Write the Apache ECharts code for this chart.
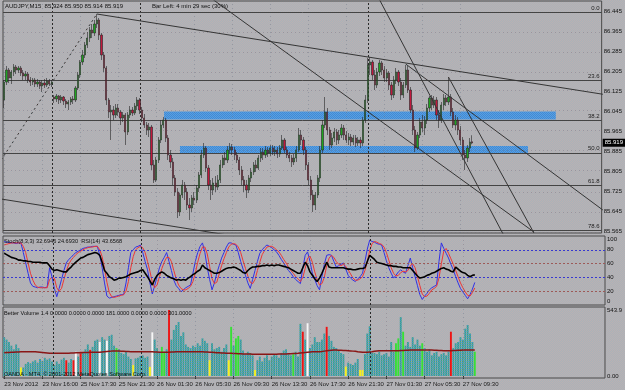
<!DOCTYPE html>
<html><head><meta charset="utf-8">
<script src="https://cdn.jsdelivr.net/npm/echarts@6/dist/echarts.min.js"></script>
<style>html,body{margin:0;padding:0;width:625px;height:390px;overflow:hidden;}#c{width:625px;height:390px;}</style>
</head><body><div id="c"></div><script>
// ---------- DATA ----------
// candles: [open, close, low, high] per 15-minute bar
const candles = [
[86.091,86.163,86.059,86.171],[86.163,86.211,86.151,86.227],[86.211,86.179,86.159,86.219],[86.179,86.203,86.155,86.211],[86.203,86.223,86.187,86.235],
[86.223,86.211,86.195,86.231],[86.211,86.219,86.199,86.227],[86.219,86.199,86.187,86.227],[86.199,86.187,86.171,86.211],[86.187,86.195,86.171,86.207],
[86.195,86.171,86.159,86.203],[86.171,86.163,86.147,86.183],[86.163,86.171,86.151,86.179],[86.171,86.155,86.143,86.179],[86.155,86.163,86.143,86.175],
[86.163,86.147,86.135,86.171],[86.147,86.159,86.123,86.171],[86.159,86.151,86.139,86.175],[86.151,86.167,86.143,86.179],[86.167,86.155,86.147,86.175],
[86.155,86.163,86.143,86.171],[86.103,86.095,86.079,86.111],[86.095,86.107,86.083,86.115],[86.107,86.091,86.075,86.111],[86.091,86.103,86.079,86.111],
[86.103,86.087,86.071,86.107],[86.087,86.075,86.059,86.095],[86.075,86.083,86.051,86.091],[86.083,86.095,86.071,86.103],[86.095,86.091,86.075,86.107],
[86.091,86.139,86.083,86.147],[86.139,86.191,86.131,86.203],[86.191,86.243,86.179,86.251],[86.243,86.271,86.231,86.291],[86.271,86.311,86.259,86.323],
[86.311,86.339,86.299,86.363],[86.339,86.371,86.323,86.383],[86.371,86.359,86.339,86.395],[86.359,86.395,86.347,86.411],[86.395,86.411,86.379,86.435],
[86.411,86.351,86.331,86.419],[86.351,86.271,86.251,86.359],[86.271,86.219,86.203,86.283],[86.219,86.091,86.071,86.227],[86.091,86.043,86.019,86.099],
[86.043,86.051,85.931,86.071],[86.051,86.031,86.011,86.067],[86.031,86.059,86.019,86.075],[86.059,86.043,86.027,86.075],[86.043,86.019,85.991,86.051],
[86.019,86.031,86.003,86.043],[86.031,85.963,85.911,86.039],[85.963,86.031,85.951,86.043],[86.031,86.051,86.019,86.067],[86.051,86.039,86.027,86.063],
[86.039,86.067,86.031,86.079],[86.067,86.091,86.051,86.103],[86.091,86.051,86.035,86.099],[86.051,86.019,86.003,86.063],[86.019,85.991,85.979,86.035],
[85.991,85.971,85.951,86.003],[85.971,85.983,85.943,85.999],[85.983,85.831,85.811,85.991],[85.831,85.771,85.759,85.851],[85.771,85.851,85.763,85.863],
[85.851,85.931,85.839,85.943],[85.931,85.991,85.919,86.011],[85.991,86.011,85.979,86.023],[86.011,85.939,85.923,86.019],[85.939,85.871,85.851,85.951],
[85.871,85.843,85.819,85.891],[85.843,85.779,85.751,85.859],[85.779,85.723,85.707,85.791],[85.723,85.643,85.619,85.739],[85.643,85.711,85.627,85.719],
[85.711,85.751,85.699,85.771],[85.751,85.723,85.691,85.763],[85.723,85.671,85.651,85.739],[85.671,85.659,85.611,85.699],[85.659,85.699,85.643,85.711],
[85.699,85.691,85.671,85.723],[85.691,85.739,85.679,85.751],[85.739,85.791,85.723,85.803],[85.791,85.871,85.779,85.891],[85.871,85.899,85.859,85.919],
[85.899,85.819,85.803,85.907],[85.819,85.751,85.731,85.831],[85.751,85.731,85.691,85.771],[85.731,85.759,85.711,85.779],[85.759,85.743,85.723,85.787],
[85.743,85.771,85.731,85.791],[85.771,85.831,85.759,85.851],[85.831,85.859,85.819,85.871],[85.859,85.851,85.831,85.883],[85.851,85.891,85.839,85.907],
[85.891,85.903,85.879,85.919],[85.903,85.891,85.871,85.915],[85.891,85.871,85.851,85.903],[85.871,85.851,85.839,85.883],[85.851,85.811,85.791,85.863],
[85.811,85.771,85.751,85.827],[85.771,85.751,85.723,85.787],[85.751,85.731,85.699,85.771],[85.731,85.779,85.719,85.791],[85.779,85.803,85.763,85.819],
[85.803,85.831,85.791,85.843],[85.831,85.819,85.803,85.851],[85.819,85.859,85.811,85.871],[85.859,85.883,85.843,85.899],[85.883,85.871,85.851,85.899],
[85.871,85.891,85.859,85.907],[85.891,85.879,85.863,85.903],[85.879,85.899,85.867,85.911],[85.899,85.883,85.871,85.911],[85.883,85.891,85.867,85.907],
[85.891,85.875,85.859,85.903],[85.875,85.899,85.863,85.911],[85.899,85.931,85.891,85.951],[85.931,85.891,85.879,85.939],[85.891,85.871,85.859,85.903],
[85.871,85.859,85.843,85.883],[85.859,85.843,85.823,85.871],[85.843,85.859,85.831,85.875],[85.859,85.891,85.843,85.907],[85.891,85.951,85.883,85.979],
[85.951,85.931,85.911,85.971],[85.931,85.891,85.871,85.943],[85.891,85.831,85.811,85.903],[85.831,85.771,85.751,85.843],[85.771,85.711,85.691,85.787],
[85.711,85.671,85.643,85.731],[85.671,85.711,85.651,85.723],[85.711,85.779,85.699,85.791],[85.779,85.891,85.763,85.907],[85.891,85.991,85.879,86.011],
[85.991,86.043,85.979,86.103],[86.043,85.971,85.951,86.059],[85.971,85.911,85.891,85.983],[85.911,85.939,85.899,85.959],[85.939,85.963,85.923,85.979],
[85.963,85.931,85.911,85.975],[85.931,85.951,85.915,85.971],[85.951,85.979,85.939,85.995],[85.979,85.951,85.931,85.991],[85.951,85.931,85.919,85.967],
[85.931,85.943,85.911,85.959],[85.943,85.923,85.907,85.955],[85.923,85.939,85.911,85.951],[85.939,85.919,85.903,85.951],[85.919,85.931,85.907,85.943],
[85.931,85.919,85.899,85.943],[85.919,86.011,85.907,86.023],[86.011,86.091,85.999,86.111],[86.091,86.231,86.079,86.259],[86.231,86.243,86.191,86.263],
[86.243,86.191,86.171,86.251],[86.191,86.151,86.131,86.211],[86.151,86.203,86.139,86.219],[86.203,86.239,86.187,86.251],[86.239,86.211,86.191,86.247],
[86.211,86.179,86.163,86.227],[86.179,86.199,86.163,86.215],[86.199,86.151,86.131,86.207],[86.151,86.111,86.091,86.163],[86.111,86.171,86.099,86.187],
[86.171,86.203,86.155,86.219],[86.203,86.163,86.147,86.211],[86.163,86.111,86.091,86.179],[86.111,86.151,86.099,86.163],[86.151,86.211,86.139,86.231],
[86.211,86.131,86.119,86.227],[86.131,86.051,86.039,86.143],[86.051,85.971,85.951,86.071],[85.971,85.899,85.883,85.987],[85.899,85.951,85.891,85.963],
[85.951,86.003,85.939,86.019],[86.003,85.979,85.963,86.031],[85.979,86.011,85.951,86.027],[86.011,86.059,85.995,86.075],[86.059,86.099,86.043,86.107],
[86.099,86.071,86.051,86.111],[86.071,86.091,86.059,86.107],[86.091,86.031,86.011,86.103],[86.031,86.011,85.979,86.051],[86.011,86.071,85.999,86.083],
[86.071,86.099,86.051,86.115],[86.099,86.083,86.067,86.111],[86.083,86.103,86.071,86.183],[86.103,86.043,86.027,86.115],[86.043,85.991,85.979,86.059],
[85.991,86.011,85.971,86.031],[86.011,85.971,85.951,86.023],[85.971,85.931,85.911,85.987],[85.931,85.871,85.851,85.943],[85.871,85.859,85.811,85.891],
[85.859,85.899,85.843,85.911],[85.899,85.923,85.883,85.939],[85.924,85.919,85.914,85.950]
];
const stochMain = [
92,91,91,90,90,89,90,90,76,61, 46,32,27,26,25,26,26,25,26,54, 41,24,12,24,37,50,61,66,69,73,
76,78,80,82,83,84,84,85,85,85, 72,54,32,13,10,11,12,13,14,15, 15,32,54,76,80,84,85,87,76,63,
51,32,16,28,41,54,63,69,76,63, 50,36,28,24,19,22,25,27,29,46, 63,76,85,90,76,54,37,22,32,46,
57,68,76,84,90,90,88,87,76,63, 52,43,32,24,37,50,63,75,80,84, 87,85,83,80,77,72,66,61,55,50,
46,41,37,34,31,54,72,77,63,46, 37,28,22,41,59,72,73,72,63,55, 57,59,61,52,43,39,36,34,38,41,
46,63,81,94,92,91,89,88,87,76, 64,54,46,39,43,48,51,48,46,57, 68,54,41,28,15,8,13,17,22,25,
27,29,63,90,82,75,68,59,51,41, 32,24,19,14,9,15,23,32.69
];
const stochSignal = [
87,88,89,90,90,90,90,90,85,76, 61,46,36,29,26,25,25,25,25,37, 40,39,25,20,24,37,49,59,65,69,
73,76,78,80,82,83,84,84,85,85, 80,70,53,33,18,12,11,12,13,14, 15,20,34,54,70,80,83,85,83,76,
63,49,33,25,29,41,53,62,69,69, 63,50,38,29,24,22,22,24,27,34, 46,62,75,84,84,74,56,38,31,33,
45,57,67,76,84,88,89,88,84,76, 64,53,42,33,31,37,50,62,73,79, 84,85,85,83,80,77,72,66,61,55,
50,46,41,38,34,40,53,68,71,62, 48,37,29,31,40,57,68,72,69,63, 59,57,59,56,51,45,39,36,36,38,
41,50,63,79,89,92,91,89,88,84, 76,65,54,46,42,43,47,49,48,50, 57,60,54,41,28,16,12,13,17,22,
24,27,39,60,78,82,75,67,59,50, 41,32,25,19,14,13,18,24.69
];
const rsi14 = [
75,73,71,69,68,67,65,65,64,64, 63,63,62,62,62,62,61,61,61,57, 52,50,51,50,49,48,48,52,55,59,
62,65,68,69,71,73,74,75,76,75, 72,62,50,46,41,39,36,37,39,39, 40,41,43,45,46,47,48,50,51,46,
41,35,29,37,43,46,48,46,43,41, 39,38,36,37,36,37,36,39,41,44, 46,49,51,58,54,52,50,48,46,46,
47,49,51,53,54,54,55,54,52,50, 47,46,50,53,55,55,56,56,57,57, 58,57,58,57,58,58,57,56,55,54,
52,50,48,46,46,54,62,57,48,43, 38,34,39,46,54,62,55,54,54,54, 54,54,54,53,52,52,51,51,52,53,
53,54,63,72,69,66,62,61,60,59, 58,57,57,56,56,55,55,54,54,54, 54,50,46,42,39,40,41,43,44,46,
47,49,51,53,54,52,51,49,48,55, 52,49,47,46,43,41,43,43.66
];
const volumes = [
320,300,280,250,220,260,230,70,70,100, 115,105,120,130,110,140,125,150,135,145,
120,90,120,100,135,150,130,110,140,130, 200,160,200,190,220,260,215,240,290,300,
280,320,300,290,330,340,250,230,220,190, 180,200,160,140,90,145,150,165,170,150,
160,75,360,300,230,200,240,200,220,544, 300,380,420,445,330,360,260,240,230,250,
240,270,250,310,290,270,130,270,220,230, 240,200,230,260,130,405,250,310,330,300,
210,180,200,190,170,50,130,160,120,150, 170,130,160,180,170,150,190,210,220,180,
170,180,200,160,430,365,300,435,230,260, 320,280,280,300,350,405,330,290,240,230,
210,190,180,77,110,100,90,110,140,50, 50,180,350,410,190,190,180,200,170,180,
190,160,280,200,270,310,485,365,250,280, 240,320,260,300,250,270,230,200,220,170,
190,200,160,180,190,170,200,365,230,270, 280,320,300,390,420,350,280,200
];
const volumeMA = [
192,193,194,195,196,197,198,199,200,200, 200,200,200,199,197,195,193,191,189,187,
187,187,187,187,187,187,187,188,189,190, 191,192,192,193,194,194,195,195,195,195,
195,197,199,201,203,205,206,206,205,204, 203,202,201,200,200,200,200,200,200,200,
200,200,199,198,197,196,195,195,195,196, 197,198,199,200,200,200,200,200,200,200,
200,200,200,199,198,197,196,195,194,192, 191,190,189,188,187,187,186,185,184,183,
182,182,181,181,180,180,180,179,179,179, 179,179,180,180,180,181,181,181,182,183,
184,185,186,187,189,191,193,195,197,199, 200,200,200,202,205,208,211,213,214,214,
213,212,211,210,209,207,205,203,200,198, 196,195,196,198,200,203,206,208,209,209,
209,209,209,209,209,209,210,211,212,213, 214,214,214,214,214,214,214,214,214,214,
213,212,211,210,209,209,209,209,210,211, 212,213,214,214,214,214,214,214
];
const redBars = [26,29,32,36,69,125,135,187];
const whiteBars = [30,40,43,62,127];
const yellowBars = [7,54,61,86,94,105,143,149,150];
const greenBars = [47,66,67,95,97,98,121,164,165,167,175,197];

const priceTicks = [86.445,86.365,86.285,86.205,86.125,86.045,85.965,85.885,85.805,85.725,85.645,85.565];
const oscTicks = [0,20,40,60,80,100];
const volTicks = [0,543.9];
const timeLabels = ['23 Nov 2012','23 Nov 16:00','25 Nov 17:30','25 Nov 21:30','26 Nov 01:30','26 Nov 05:30','26 Nov 09:30','26 Nov 13:30','26 Nov 17:30','26 Nov 21:30','27 Nov 01:30','27 Nov 05:30','27 Nov 09:30'];
const timeTickBars = [0,16,32,48,64,80,96,112,128,144,160,176,192];
const daySeparators = [20.4,57.4,153.4];
const fibNames = ['0.0','23.6','38.2','50.0','61.8','78.6'];
const fibPrices = [86.435,86.175,86.014,85.884,85.754,85.569];
const fibDiagonal = [-37,85.333,39,86.435];
// zones: [fromBar, toBar, lowPrice, highPrice]
const zones = [[67.3,232.2,86.013,86.045],[74,220.5,85.879,85.907]];
// trend lines: [bar1, price1, bar2, price2]
const trendLines = [
  [39,86.435,252,86.114],
  [-2,85.696,100,85.542],
  [88,86.492,223,85.563],
  [158,86.492,210,85.555],
  [187,86.183,223,85.559],
  [169,86.235,252,85.651]
];
const oscLevels = [[80,'#3838d0'],[40,'#3838d0'],[60,'#9c5a58'],[20,'#9c5a58']];
const lastPrice = 85.919;

// ---------- DRAWING ----------
function checker(c1, c2) {
  const cv = document.createElement('canvas'); cv.width = 2; cv.height = 2;
  const g = cv.getContext('2d');
  g.fillStyle = c1; g.fillRect(0,0,2,2);
  g.fillStyle = c2; g.fillRect(1,0,1,1); g.fillRect(0,1,1,1);
  return cv;
}
document.body.style.background = 'url(' + checker('#bbb0b2','#a9b3b9').toDataURL() + ') repeat';
const bluePattern = {image: checker('#3a8fd8','#48ad6a'), repeat:'repeat'};
const zonePattern = {image: checker('#3f8ad6','#5a9fe0'), repeat:'repeat'};

const FONT = 'Liberation Sans';
const gridDot = {type:[1,3], color:'rgba(110,110,125,0.4)', width:1};
const sepStyle = {type:[2,2], color:'#2a2a2a', width:1};
const vertLines = () => timeTickBars.map(b => ({xAxis:b, lineStyle:gridDot}))
  .concat(daySeparators.map(b => ({xAxis:b, lineStyle:sepStyle})));

function xAxisFor(gi, show) {
  return {
    type:'value', gridIndex:gi, min:-0.5, max:251.5,
    axisLine:{show:false}, splitLine:{show:false},
    axisTick: show ? {show:true, customValues:timeTickBars, length:3, lineStyle:{color:'#333'}} : {show:false},
    axisLabel: show ? {show:true, customValues:timeTickBars, align:'left', margin:3, fontSize:6, fontFamily:FONT, color:'#1a1a1a',
      formatter: v => { const k = timeTickBars.indexOf(Math.round(v)); return k >= 0 ? timeLabels[k] : ''; }} : {show:false}
  };
}

const volColor = i => redBars.includes(i) ? '#ee1414' : whiteBars.includes(i) ? '#f6f6f6' :
  yellowBars.includes(i) ? '#f2f21e' : greenBars.includes(i) ? '#36e036' : bluePattern;

const series = [];
series.push({
  type:'candlestick', xAxisIndex:0, yAxisIndex:0, z:5,
  data: candles.map((c,i) => [i, c[0], c[1], c[2], c[3]]),
  encode:{x:0, y:[1,2,3,4]},
  barWidth:1.7,
  itemStyle:{color:'#1fa31f', color0:'#c0183c', borderColor:'#262626', borderColor0:'#262626', borderWidth:0.6},
  markArea:{silent:true, z:1, itemStyle:{color:zonePattern},
    data: zones.map(z => [{xAxis:z[0], yAxis:z[2]}, {xAxis:z[1], yAxis:z[3]}])},
  markLine:{silent:true, symbol:['none','none'], animation:false,
    data: priceTicks.map(p => ({yAxis:p, lineStyle:gridDot, label:{show:false}}))
      .concat(vertLines().map(d => Object.assign(d, {label:{show:false}})))
      .concat(fibPrices.map((p,k) => ({yAxis:p, lineStyle:{type:'solid', color:'#444', width:1},
        label:{show:true, position:'insideEndTop', distance:[2,1], formatter:fibNames[k], fontSize:6, fontFamily:FONT, color:'#222'}})))
      .concat([{yAxis:lastPrice, lineStyle:{color:'rgba(0,0,0,0)', width:1},
        label:{show:true, position:'end', distance:1, formatter:lastPrice.toFixed(3), backgroundColor:'#000', color:'#fff',
          padding:[1,2,1,2], fontSize:6, fontFamily:FONT}}])
  }
});
trendLines.forEach(t => series.push({
  type:'line', xAxisIndex:0, yAxisIndex:0, z:6, silent:true, symbol:'none',
  data:[[t[0],t[1]],[t[2],t[3]]], lineStyle:{color:'#353535', width:1}
}));
series.push({
  type:'line', xAxisIndex:0, yAxisIndex:0, z:6, silent:true, symbol:'none',
  data:[[fibDiagonal[0],fibDiagonal[1]],[fibDiagonal[2],fibDiagonal[3]]], lineStyle:{color:'#353535', width:1, type:[2,3]}
});
series.push({
  type:'line', xAxisIndex:1, yAxisIndex:1, symbol:'none', z:4,
  data: stochMain.map((v,i) => [i,v]), lineStyle:{color:'#3030e6', width:1},
  markLine:{silent:true, symbol:['none','none'], label:{show:false},
    data: oscLevels.map(l => ({yAxis:l[0], lineStyle:{type:[2,2], color:l[1], width:1}})).concat(vertLines())}
});
series.push({
  type:'line', xAxisIndex:1, yAxisIndex:1, symbol:'none', z:4,
  data: stochSignal.map((v,i) => [i,v]), lineStyle:{color:'#ee3535', width:1}
});
series.push({
  type:'line', xAxisIndex:1, yAxisIndex:1, symbol:'none', z:5,
  data: rsi14.map((v,i) => [i,v]), lineStyle:{color:'#000', width:1.6}
});
series.push({
  type:'bar', xAxisIndex:2, yAxisIndex:2, barWidth:1.9, z:3,
  data: volumes.map((v,i) => ({value:[i,v], itemStyle:{color:volColor(i)}})),
  markLine:{silent:true, symbol:['none','none'], label:{show:false}, data: vertLines()}
});
series.push({
  type:'line', xAxisIndex:2, yAxisIndex:2, symbol:'none', z:4,
  data: volumeMA.map((v,i) => [i,v]), lineStyle:{color:'#8a1616', width:1.5}
});

const axisLbl = {fontSize:6, fontFamily:FONT, color:'#111', margin:2};
const option = {
  animation:false,
  backgroundColor:'transparent',
  grid:[
    {left:3, top:1, width:602, height:232, show:true, borderColor:'#4a4a4a', borderWidth:1},
    {left:3, top:236, width:602, height:69, show:true, borderColor:'#4a4a4a', borderWidth:1},
    {left:3, top:307, width:602, height:71, show:true, borderColor:'#4a4a4a', borderWidth:1}
  ],
  xAxis:[xAxisFor(0,false), xAxisFor(1,false), xAxisFor(2,true)],
  yAxis:[
    {type:'value', gridIndex:0, position:'right', min:85.559, max:86.487, scale:true,
     axisLine:{show:false}, axisTick:{show:false}, splitLine:{show:false},
     axisLabel:Object.assign({customValues:priceTicks, formatter:v => v.toFixed(3)}, axisLbl)},
    {type:'value', gridIndex:1, position:'right', min:0, max:100,
     axisLine:{show:false}, axisTick:{show:false}, splitLine:{show:false},
     axisLabel:Object.assign({customValues:oscTicks,
       formatter:v => v === 100 ? '{t|100}' : (v === 0 ? '{b|0}' : String(v)),
       rich:{t:{padding:[7,0,0,0], fontSize:6, fontFamily:FONT, color:'#111'}, b:{padding:[0,0,7,0], fontSize:6, fontFamily:FONT, color:'#111'}}}, axisLbl)},
    {type:'value', gridIndex:2, position:'right', min:-16.48, max:568.6,
     axisLine:{show:false}, axisTick:{show:false}, splitLine:{show:false},
     axisLabel:Object.assign({customValues:volTicks, formatter:v => v === 0 ? '0.00' : v.toFixed(1)}, axisLbl)}
  ],
  graphic:[
    {type:'text', left:5, top:3, z:100, style:{text:'AUDJPY,M15  85.924 85.950 85.914 85.919', fontSize:6, fontFamily:FONT, fill:'#111'}},
    {type:'text', left:152, top:3, z:100, style:{text:'Bar Left: 4 min 29 sec (30%)', fontSize:6, fontFamily:FONT, fill:'#111'}},
    {type:'text', left:4, top:238, z:100, style:{text:'Stoch(8,3,3) 32.6946 24.6930  RSI(14) 43.6568', fontSize:5.6, fontFamily:FONT, fill:'#111'}},
    {type:'text', left:4, top:310, z:100, style:{text:'Better Volume 1.4 0.0000 0.0000 0.0000 181.0000 0.0000 0.0000 301.0000', fontSize:5.6, fontFamily:FONT, fill:'#111'}},
    {type:'text', left:4, top:371, z:100, style:{text:'OANDA - MT4, \u00a9 2001-2012 MetaQuotes Software Corp.', fontSize:5.6, fontFamily:FONT, fill:'#111'}}
  ],
  series: series
};
const chart = echarts.init(document.getElementById('c'), null, {renderer:'canvas', width:625, height:390});
chart.setOption(option);
</script></body></html>
